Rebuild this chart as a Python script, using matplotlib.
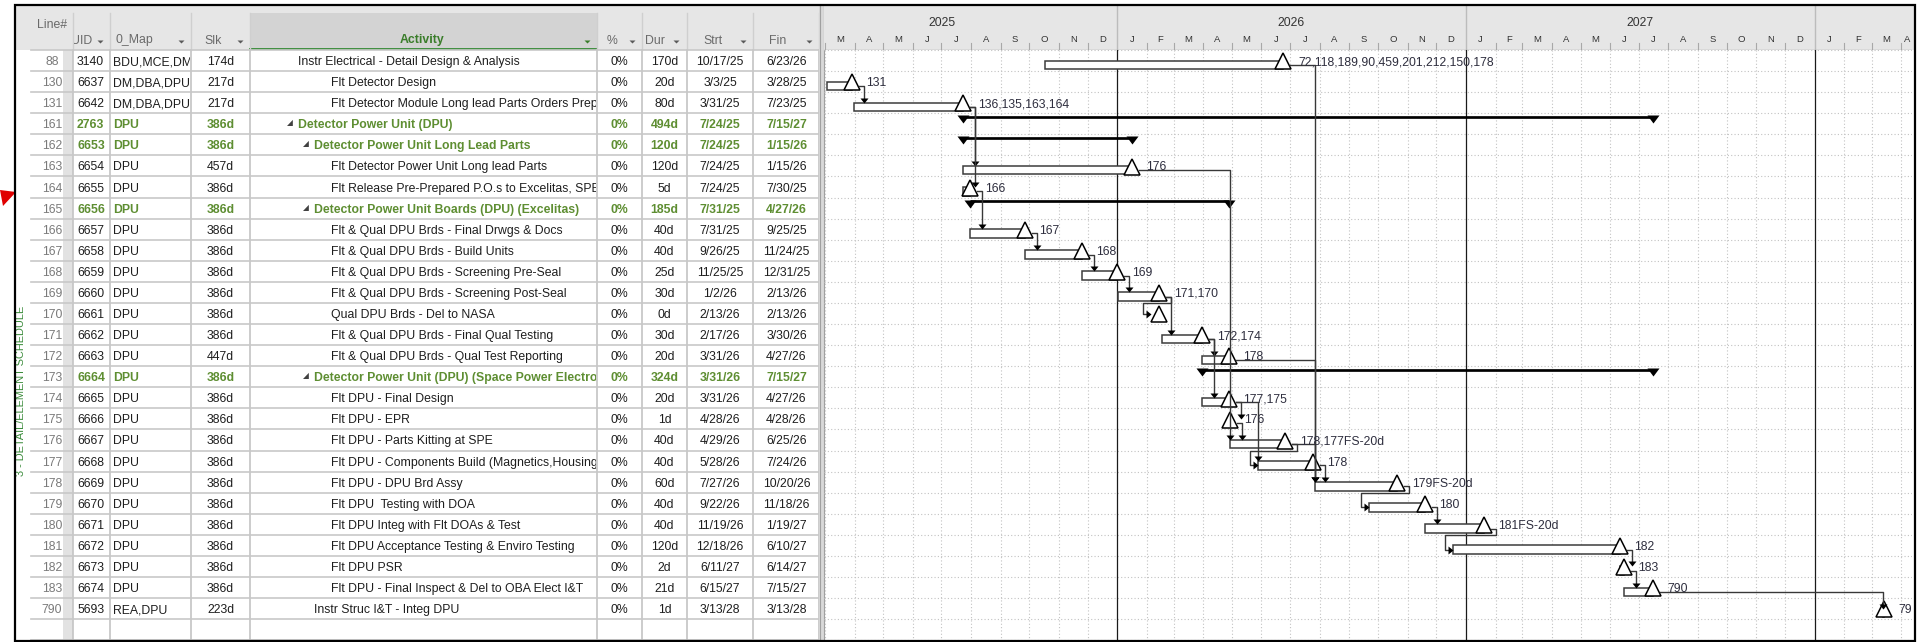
import re
from datetime import datetime

import matplotlib.pyplot as plt
import matplotlib.dates as mdates
from matplotlib.patches import Rectangle, Polygon
from matplotlib.path import Path
from matplotlib.transforms import Bbox, TransformedBbox

plt.rcParams['font.family'] = ['Liberation Sans', 'DejaVu Sans']

# ---- schedule rows (one entry per line of the table, text as shown in the cells) ----
LINE_NO = [88, 130, 131, 161, 162, 163, 164, 165, 166, 167, 168, 169, 170, 171,
           172, 173, 174, 175, 176, 177, 178, 179, 180, 181, 182, 183, 790]
UID = [3140, 6637, 6642, 2763, 6653, 6654, 6655, 6656, 6657, 6658, 6659, 6660, 6661, 6662,
       6663, 6664, 6665, 6666, 6667, 6668, 6669, 6670, 6671, 6672, 6673, 6674, 5693]
MAP = ["BDU,MCE,DM", "DM,DBA,DPU", "DM,DBA,DPU"] + ["DPU"] * 23 + ["REA,DPU"]
SLACK = ["174d", "217d", "217d", "386d", "386d", "457d", "386d", "386d", "386d", "386d",
         "386d", "386d", "386d", "386d", "447d", "386d", "386d", "386d", "386d", "386d",
         "386d", "386d", "386d", "386d", "386d", "386d", "223d"]
NAMES = [
    "Instr Electrical - Detail Design & Analysis",
    "Flt Detector Design",
    "Flt Detector Module Long lead Parts Orders Prep",
    "Detector Power Unit (DPU)",
    "Detector Power Unit Long Lead Parts",
    "Flt Detector Power Unit Long lead Parts",
    "Flt Release Pre-Prepared P.O.s to Excelitas, SPE",
    "Detector Power Unit Boards (DPU) (Excelitas)",
    "Flt & Qual DPU Brds - Final Drwgs & Docs",
    "Flt & Qual DPU Brds - Build Units",
    "Flt & Qual DPU Brds - Screening Pre-Seal",
    "Flt & Qual DPU Brds - Screening Post-Seal",
    "Qual DPU Brds - Del to NASA",
    "Flt & Qual DPU Brds - Final Qual Testing",
    "Flt & Qual DPU Brds - Qual Test Reporting",
    "Detector Power Unit (DPU) (Space Power Electron",
    "Flt DPU - Final Design",
    "Flt DPU - EPR",
    "Flt DPU - Parts Kitting at SPE",
    "Flt DPU - Components Build (Magnetics,Housing",
    "Flt DPU - DPU Brd Assy",
    "Flt DPU  Testing with DOA",
    "Flt DPU Integ with Flt DOAs & Test",
    "Flt DPU Acceptance Testing & Enviro Testing",
    "Flt DPU PSR",
    "Flt DPU - Final Inspect & Del to OBA Elect I&T",
    "Instr Struc I&T - Integ DPU",
]
LEVEL = [1, 3, 3, 1, 2, 3, 3, 2, 3, 3, 3, 3, 3, 3, 3, 2, 3, 3, 3, 3, 3, 3, 3, 3, 3, 3, 2]
SUMMARY = [161, 162, 165, 173]
PCT = ["0%"] * 27
DUR = ["170d", "20d", "80d", "494d", "120d", "120d", "5d", "185d", "40d", "40d", "25d",
       "30d", "0d", "30d", "20d", "324d", "20d", "1d", "40d", "40d", "60d", "40d", "40d",
       "120d", "2d", "21d", "1d"]
START = ["10/17/25", "3/3/25", "3/31/25", "7/24/25", "7/24/25", "7/24/25", "7/24/25",
         "7/31/25", "7/31/25", "9/26/25", "11/25/25", "1/2/26", "2/13/26", "2/17/26",
         "3/31/26", "3/31/26", "3/31/26", "4/28/26", "4/29/26", "5/28/26", "7/27/26",
         "9/22/26", "11/19/26", "12/18/26", "6/11/27", "6/15/27", "3/13/28"]
FINISH = ["6/23/26", "3/28/25", "7/23/25", "7/15/27", "1/15/26", "1/15/26", "7/30/25",
          "4/27/26", "9/25/25", "11/24/25", "12/31/25", "2/13/26", "2/13/26", "3/30/26",
          "4/27/26", "7/15/27", "4/27/26", "4/28/26", "6/25/26", "7/24/26", "10/20/26",
          "11/18/26", "1/19/27", "6/10/27", "6/14/27", "7/15/27", "3/13/28"]
SUCCESSORS = ["72,118,189,90,459,201,212,150,178", "131", "136,135,163,164", "", "",
              "176", "166", "", "167", "168", "169", "171,170", "", "172,174", "178", "",
              "177,175", "176", "178,177FS-20d", "178", "179FS-20d", "180", "181FS-20d",
              "182", "183", "790", "79"]

# ---- layout (pixels) ----
FIG_W, FIG_H = 1919, 642
ROW_H = 21.08
BODY_TOP = 50
BODY_BOT = 641
GANTT_L, GANTT_R = 824, 1912
COL_EDGES = [73, 110, 191, 250, 597, 642, 687, 753, 819]
FS = 8.8
GREEN = '#5e8e32'
TEXT = '#1e1e1e'
LINK = '#383838'
PT = 0.72  # points per pixel at 100 dpi


def to_num(s):
    return mdates.date2num(datetime.strptime(s, "%m/%d/%y"))


def tri_marker(verts):
    return Path(verts + [verts[0]], closed=True)


CAP = tri_marker([(-6, 0), (6, 0), (0, -8)])        # summary end caps
DOWN_ARROW = tri_marker([(-4, 5), (4, 5), (0, 0)])  # tip at origin
RIGHT_ARROW = tri_marker([(-5, 4), (-5, -4), (0, 0)])
DROPDOWN = tri_marker([(-3, 0), (3, 0), (0, -3)])

fig = plt.figure(figsize=(FIG_W / 100, FIG_H / 100), dpi=100)
ax = fig.add_axes([0, 0, 1, 1])
ax.set_xlim(0, FIG_W)
ax.set_ylim(FIG_H, 0)
ax.set_axis_off()


def row_y(k):
    return BODY_TOP + (k + 0.5) * ROW_H


def clip_text(t, x0, x1):
    # Agg only honours rectangular clipping for text, so use a clip box
    t.set_clip_path(None)
    t.set_clip_box(TransformedBbox(Bbox([[x0, 0], [x1, FIG_H]]), ax.transData))
    t.set_clip_on(True)


# ---- table frame ----
ax.add_patch(Rectangle((15, 5), 1900, 45, fc='#e6e6e6', ec='none', zorder=0))
ax.add_patch(Rectangle((250, 13), 347, 36, fc='#d3d3d3', ec='none', zorder=0.5))
ax.plot([250, 597], [49.3, 49.3], color='#3f8f3f', lw=1.4, zorder=1)
ax.add_patch(Rectangle((63, BODY_TOP), 10, BODY_BOT - BODY_TOP, fc='#e2e2e2', ec='none', zorder=0))
for x in COL_EDGES:
    ax.plot([x, x], [13, BODY_TOP], color='#cfcfcf', lw=1, zorder=1)
    ax.plot([x, x], [BODY_TOP, BODY_BOT], color='#c4c4c4', lw=1.2, zorder=1)
k = 0
while BODY_TOP + k * ROW_H < BODY_BOT:
    y = BODY_TOP + k * ROW_H
    ax.plot([31, 819], [y, y], color='#c8c8c8', lw=1.2, zorder=1)
    k += 1

# splitter between table and chart
ax.add_patch(Rectangle((819, 5), 5, 636, fc='#d9d9d9', ec='none', zorder=2))
ax.plot([819.5, 819.5], [5, 641], color='#a0a0a0', lw=0.8, zorder=2)
ax.plot([823.8, 823.8], [5, 641], color='#a0a0a0', lw=0.8, zorder=2)

# ---- column headers ----
hdr = dict(color='#6a6a6a', fontsize=FS, va='center_baseline')
ax.text(52, 23, 'Line#', ha='center', **hdr)
clip_text(ax.text(71.5, 39, 'UID', ha='left', **hdr), 74, 110)
ax.text(116, 39, '0_Map', ha='left', **hdr)
ax.text(204, 39, 'Slk', ha='left', **hdr)
ax.text(422, 39, 'Activity', ha='center', va='center_baseline', fontsize=FS,
        color='#3a7d2a', fontweight='bold')
ax.text(612, 39, '%', ha='center', **hdr)
ax.text(655, 39, 'Dur', ha='center', **hdr)
ax.text(713, 39, 'Strt', ha='center', **hdr)
ax.text(778, 39, 'Fin', ha='center', **hdr)
ax.plot([100, 181, 240, 632, 676, 743, 809], [40] * 7, ls='none', marker=DROPDOWN,
        ms=6 * PT, color='#5a5a5a', mew=0)
ax.plot([587], [40], ls='none', marker=DROPDOWN, ms=6 * PT, color='#3a7d2a', mew=0)

# ---- table cells ----
for k in range(len(LINE_NO)):
    y = row_y(k)
    summ = LINE_NO[k] in SUMMARY
    c = GREEN if summ else TEXT
    w = 'bold' if summ else 'normal'
    cell = dict(fontsize=FS, va='center_baseline', color=c, fontweight=w)
    ax.text(52, y, str(LINE_NO[k]), ha='center', va='center_baseline', fontsize=FS, color='#7a7a7a')
    ax.text(77, y, str(UID[k]), ha='left', **cell)
    clip_text(ax.text(113, y, MAP[k], ha='left', **cell), 111, 190)
    ax.text(220.5, y, SLACK[k], ha='center', **cell)
    x_name = 281.5 + 16.5 * LEVEL[k]
    if summ:
        ax.text(x_name - 11.5, y, '\u25e2', ha='left', va='center', fontsize=5.5, color='#404040')
    clip_text(ax.text(x_name, y, NAMES[k], ha='left', **cell), 251, 596)
    ax.text(619.5, y, PCT[k], ha='center', **cell)
    ax.text(664.5, y, DUR[k], ha='center', **cell)
    ax.text(720, y, START[k], ha='center', **cell)
    ax.text(786.5, y, FINISH[k], ha='center', **cell)

ax.text(21, 391, '3 - DETAIL/ELEMENT SCHEDULE', rotation=90, ha='center', va='center',
        fontsize=7.9, color='#3c8c3c')
ax.add_patch(Polygon([(0, 190), (16, 192), (3, 206)], closed=True, fc='#e00000', ec='none'))

# ---- gantt chart ----
X0 = mdates.date2num(datetime(2025, 2, 28))
X1 = mdates.date2num(datetime(2028, 4, 12))
gx = fig.add_axes([GANTT_L / FIG_W, (FIG_H - BODY_BOT) / FIG_H,
                   (GANTT_R - GANTT_L) / FIG_W, (BODY_BOT - BODY_TOP) / FIG_H])
n_vis = (BODY_BOT - BODY_TOP) / ROW_H
gx.set_xlim(X0, X1)
gx.set_ylim(n_vis, 0)
gx.set_axis_off()
PXD = (GANTT_R - GANTT_L) / (X1 - X0)


def dpx(p):
    return p / PXD


def rpx(p):
    return p / ROW_H


months = []
yy, mm = 2025, 2
while mdates.date2num(datetime(yy, mm, 1)) < X1:
    months.append(datetime(yy, mm, 1))
    mm += 1
    if mm == 13:
        yy, mm = yy + 1, 1
months.append(datetime(yy, mm, 1))

for k in range(int(n_vis) + 1):
    gx.axhline(k, color='#c2c2c2', lw=0.8, ls=(0, (1, 2)), zorder=0)
for m in months:
    xm = mdates.date2num(m)
    if not X0 < xm < X1:
        continue
    if m.month == 1:
        gx.axvline(xm, color='#1a1a1a', lw=0.9, zorder=1)
    else:
        gx.axvline(xm, color='#c2c2c2', lw=0.8, ls=(0, (1, 2)), zorder=0)

row_of = {n: i for i, n in enumerate(LINE_NO)}
starts = [to_num(s) for s in START]
ends = [to_num(f) + 1 for f in FINISH]

for k in range(len(LINE_NO)):
    s, f = starts[k], ends[k]
    yc = k + 0.5
    if LINE_NO[k] in SUMMARY:
        gx.plot([s, f], [yc - rpx(6.7)] * 2, color='black', lw=2.7 * PT,
                solid_capstyle='butt', zorder=3)
        gx.plot([s, f], [yc - rpx(8.4)] * 2, ls='none', marker=CAP, ms=16 * PT,
                color='black', mew=0, zorder=3)
        continue
    if DUR[k] != '0d':
        gx.add_patch(Rectangle((s, yc), f - s, rpx(8.5), fc='white', ec='#3c3c3c',
                               lw=1.1, zorder=3))
    gx.plot(f, yc + rpx(8.5 - 7.75), marker='^', ms=15.5 * PT, mfc='white',
            mec='black', mew=1.1, zorder=4)
    if SUCCESSORS[k]:
        gx.text(f + dpx(14.5), yc, SUCCESSORS[k], ha='left', va='center_baseline',
                fontsize=FS, color='#2e2e3e', zorder=6)

# dependency links
for i in range(len(LINE_NO)):
    for tok in SUCCESSORS[i].split(','):
        if not tok:
            continue
        succ = int(re.match(r'\d+', tok).group())
        if succ not in row_of:
            continue
        j = row_of[succ]
        xf = ends[i]
        y_mid = i + 0.5 + rpx(4.25)
        milestone = DUR[j] == '0d'
        xs = ends[j] if milestone else starts[j]
        x_out = xf + dpx(12)
        if milestone or xs < xf - 0.5:
            target = xs - dpx(8) if milestone else xs
            xj = target - dpx(8)
            yt = j + 0.5 + (rpx(1) if milestone else rpx(4.25))
            gx.plot([xf + dpx(7), x_out, x_out, xj, xj, target - dpx(2)],
                    [y_mid, y_mid, j, j, yt, yt], color=LINK, lw=1.0, zorder=5)
            gx.plot(target, yt, ls='none', marker=RIGHT_ARROW, ms=10 * PT,
                    color='black', mew=0, zorder=5)
        else:
            xd = max(x_out, xs)
            gx.plot([xf + dpx(7), xd, xd], [y_mid, y_mid, j + 0.5 - rpx(2)],
                    color=LINK, lw=1.0, zorder=5)
            gx.plot(xd, j + 0.5, ls='none', marker=DOWN_ARROW, ms=10 * PT,
                    color='black', mew=0, zorder=5)

# ---- timescale header ----
hx = fig.add_axes([GANTT_L / FIG_W, (FIG_H - BODY_TOP) / FIG_H,
                   (GANTT_R - GANTT_L) / FIG_W, (BODY_TOP - 6) / FIG_H])
hx.set_xlim(X0, X1)
hx.set_ylim(1, 0)
hx.set_axis_off()
hx.add_patch(Rectangle((X0, 0), X1 - X0, 1, fc='#e6e6e6', ec='none', zorder=0))
for yr in (2025, 2026, 2027, 2028):
    mid = mdates.date2num(datetime(yr, 7, 2))
    if X0 < mid < X1:
        hx.text(mid, 0.39, str(yr), ha='center', va='center', fontsize=8.7, color='#333333')
    jan = mdates.date2num(datetime(yr, 1, 1))
    if X0 < jan < X1:
        hx.axvline(jan, color='#bcbcbc', lw=1)
for a, b in zip(months[:-1], months[1:]):
    lo = max(mdates.date2num(a), X0)
    hi = min(mdates.date2num(b), X1)
    if (hi - lo) * PXD > 5:
        hx.text((lo + hi) / 2, 0.76, 'JFMAMJJASOND'[a.month - 1], ha='center', va='center',
                fontsize=6.8, color='#333333', clip_on=True)
    xa = mdates.date2num(a)
    if X0 < xa < X1 and a.month != 1:
        hx.plot([xa, xa], [0.84, 1.0], color='#a8a8a8', lw=0.8)
hx.axhline(1.0, color='#a8a8a8', lw=1)

# outer frame on top of everything
fig.add_artist(Rectangle((15, 5), 1900, 636, transform=ax.transData, fill=False,
                         ec='black', lw=1.6, zorder=10))

fig.savefig('out.png', dpi=100)
